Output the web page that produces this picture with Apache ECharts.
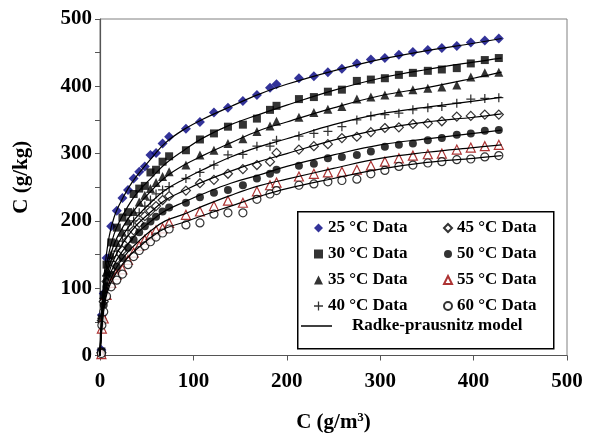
<!DOCTYPE html>
<html>
<head>
<meta charset="utf-8">
<script src="https://cdn.jsdelivr.net/npm/echarts@6/dist/echarts.min.js"></script>
<style>html,body{margin:0;padding:0;background:#fff;}#c{width:589px;height:436px;}</style>
</head>
<body>
<div id="c"></div>
<script>
// Measured data (x in g/m3, y in g/kg)
const xData = [1.5, 2, 4, 7, 12, 18, 24, 30, 36, 42, 48, 54, 60, 67, 74, 92, 107, 122, 137, 153, 168, 182, 189, 213, 229, 244, 259, 275, 290, 305, 320, 335, 351, 366, 382, 397, 412, 427];
const y25 = [8, 60, 92, 145, 192, 215, 234, 246, 263, 273, 281, 298, 301, 315, 325, 337, 347, 361, 368, 378, 387, 398, 403, 412, 415, 421, 426, 434, 440, 442, 447, 451, 454, 457, 460, 465, 468, 471];
const y30 = [6, 55, 90, 135, 168, 190, 205, 213, 240, 248, 252, 272, 276, 288, 296, 305, 321, 330, 340, 343, 352, 365, 371, 381, 384, 392, 395, 408, 410, 412, 417, 420, 423, 425, 427, 434, 439, 442];
const y35 = [5, 55, 88, 125, 150, 168, 183, 200, 214, 228, 238, 248, 257, 266, 273, 283, 298, 305, 315, 322, 333, 341, 348, 354, 361, 366, 370, 381, 384, 387, 391, 395, 397, 399, 402, 414, 420, 421];
const y40 = [5, 55, 85, 118, 140, 155, 170, 186, 200, 212, 222, 231, 240, 246, 251, 263, 272, 283, 298, 299, 311, 311, 320, 326, 330, 333, 340, 350, 356, 358, 360, 365, 368, 370, 375, 381, 382, 383];
const y45 = [4, 52, 80, 110, 128, 143, 156, 172, 186, 197, 207, 215, 222, 231, 237, 245, 256, 261, 270, 277, 283, 288, 301, 306, 311, 314, 323, 325, 332, 338, 339, 344, 345, 348, 355, 356, 358, 358];
const y50 = [4, 50, 75, 102, 120, 132, 145, 160, 172, 183, 192, 199, 206, 214, 220, 227, 235, 242, 246, 253, 263, 270, 276, 282, 285, 293, 295, 298, 303, 310, 313, 315, 320, 323, 328, 330, 334, 335];
const y55 = [2, 40, 55, 90, 108, 120, 128, 142, 153, 163, 172, 179, 186, 189, 197, 209, 214, 222, 230, 227, 244, 253, 257, 266, 270, 272, 273, 276, 282, 288, 293, 297, 299, 300, 306, 309, 311, 313];
const y60 = [3, 45, 65, 88, 102, 112, 121, 135, 147, 156, 163, 169, 176, 182, 188, 194, 197, 210, 212, 212, 232, 240, 245, 253, 255, 258, 260, 262, 270, 275, 281, 283, 286, 288, 291, 292, 295, 297];

// Radke-Prausnitz model curves
const modelX = [0, 1, 3, 6, 10, 15, 20, 30, 40, 55, 70, 90, 110, 140, 170, 200, 250, 300, 350, 400, 430];
const m25 = [0, 40, 95, 140, 178, 205, 222, 248, 268, 293, 316, 336, 351, 370, 388, 403, 423, 440, 453, 464, 471];
const m30 = [0, 35, 85, 125, 155, 180, 197, 222, 242, 264, 285, 305, 323, 343, 358, 372, 394, 412, 425, 436, 442];
const m35 = [0, 32, 78, 115, 143, 165, 180, 203, 222, 245, 265, 283, 297, 316, 334, 347, 368, 386, 398, 412, 421];
const m40 = [0, 30, 72, 108, 133, 153, 168, 190, 207, 228, 246, 262, 276, 295, 310, 322, 343, 359, 369, 378, 384];
const m45 = [0, 28, 68, 100, 125, 143, 157, 178, 195, 214, 231, 245, 258, 274, 288, 300, 320, 336, 347, 354, 359];
const m50 = [0, 26, 63, 94, 117, 134, 147, 166, 182, 200, 215, 228, 240, 256, 268, 281, 298, 313, 322, 330, 335];
const m55 = [0, 24, 58, 88, 108, 124, 136, 154, 168, 186, 200, 210, 222, 238, 252, 262, 278, 293, 302, 309, 313];
const m60 = [0, 22, 55, 84, 103, 117, 128, 146, 159, 176, 189, 198, 208, 222, 236, 248, 263, 277, 287, 293, 297];

const names = ['25 °C Data', '30 °C Data', '35 °C Data', '40 °C Data', '45 °C Data', '50 °C Data', '55 °C Data', '60 °C Data'];
const modelName = 'Radke-prausnitz model';

const FONT = 'Liberation Serif';
const plus = 'path://M4.3,0H5.7V4.3H10V5.7H5.7V10H4.3V5.7H0V4.3H4.3Z';
const styles = [
  {symbol: 'diamond', size: 10, itemStyle: {color: '#000080'}},
  {symbol: 'rect', size: 8, itemStyle: {color: '#000'}},
  {symbol: 'triangle', size: 9, itemStyle: {color: '#000'}},
  {symbol: plus, size: 9, itemStyle: {color: '#000'}},
  {symbol: 'diamond', size: 9, itemStyle: {color: '#fff', borderColor: '#000', borderWidth: 1.2}},
  {symbol: 'circle', size: 8, itemStyle: {color: '#000'}},
  {symbol: 'triangle', size: 9, itemStyle: {color: '#fff', borderColor: '#990000', borderWidth: 1.2}},
  {symbol: 'circle', size: 8, itemStyle: {color: '#fff', borderColor: '#000', borderWidth: 1.2}}
];
const ys = [y25, y30, y35, y40, y45, y50, y55, y60];
const ms = [m25, m30, m35, m40, m45, m50, m55, m60];

const series = [];
ys.forEach((arr, k) => {
  series.push({
    name: names[k], type: 'scatter', symbol: styles[k].symbol, symbolSize: styles[k].size,
    itemStyle: styles[k].itemStyle, z: 2,
    data: xData.map((x, i) => [x, arr[i]])
  });
});
ms.forEach((arr) => {
  series.push({
    name: modelName, type: 'line', smooth: 0.4, symbol: 'none', showSymbol: false, z: 3,
    lineStyle: {color: '#000', width: 1.2}, itemStyle: {color: '#000'},
    data: modelX.map((x, i) => [x, arr[i]])
  });
});

const legText = {fontFamily: FONT, fontWeight: 'bold', fontSize: 17, color: '#000'};
const chart = echarts.init(document.getElementById('c'), null, {renderer: 'canvas'});
chart.setOption({
  animation: false,
  backgroundColor: '#fff',
  grid: {left: 100, right: 22, top: 19, bottom: 80.5, show: true, borderColor: '#808080', borderWidth: 1,
         containLabel: false, outerBoundsMode: 'none'},
  xAxis: {
    type: 'value', min: 0, max: 500, interval: 100,
    name: 'C (g/m{sup|3})', nameLocation: 'middle', nameGap: 56,
    nameTextStyle: {fontFamily: FONT, fontWeight: 'bold', fontSize: 21, color: '#000',
      rich: {sup: {fontFamily: FONT, fontWeight: 'bold', fontSize: 13, verticalAlign: 'top', padding: [0, 0, 10, 0]}}},
    axisLine: {lineStyle: {color: '#555', width: 1.2}},
    axisTick: {show: true, inside: false, length: 5, lineStyle: {color: '#555'}},
    axisLabel: {fontFamily: FONT, fontWeight: 'bold', fontSize: 21, color: '#000', margin: 16},
    splitLine: {show: false}
  },
  yAxis: {
    type: 'value', min: 0, max: 500, interval: 50,
    name: 'C (g/kg)', nameLocation: 'middle', nameGap: 68, nameRotate: 90,
    nameTextStyle: {fontFamily: FONT, fontWeight: 'bold', fontSize: 21, color: '#000', padding: [0, 0, 0, 20]},
    axisLine: {show: true, lineStyle: {color: '#555', width: 1.2}},
    axisTick: {show: true, inside: false, length: 5, lineStyle: {color: '#555'}},
    axisLabel: {fontFamily: FONT, fontWeight: 'bold', fontSize: 21, color: '#000', margin: 8,
      formatter: v => (v % 100 === 0 ? String(v) : '')},
    splitLine: {show: false}
  },
  graphic: [{
    type: 'rect', left: 297, top: 211, z: 50,
    shape: {width: 256, height: 137},
    style: {fill: '#fff', stroke: '#000', lineWidth: 1.5}
  }],
  legend: [
    {data: names.slice(0, 4), orient: 'vertical', left: 314, top: 219.5, itemWidth: 9, itemHeight: 9, itemGap: 9,
     textStyle: legText, z: 60, selectedMode: false, padding: 0},
    {data: names.slice(4, 8), orient: 'vertical', left: 443, top: 219.5, itemWidth: 8, itemHeight: 8, itemGap: 9,
     textStyle: legText, z: 60, selectedMode: false, padding: 0},
    {data: [{name: modelName, icon: 'rect'}], orient: 'vertical', left: 301, top: 317.5, itemWidth: 31, itemHeight: 1.5,
     textStyle: Object.assign({}, legText, {padding: [0, 0, 0, 15]}), z: 60, selectedMode: false, padding: 0}
  ],
  series: series
});
</script>
</body>
</html>
